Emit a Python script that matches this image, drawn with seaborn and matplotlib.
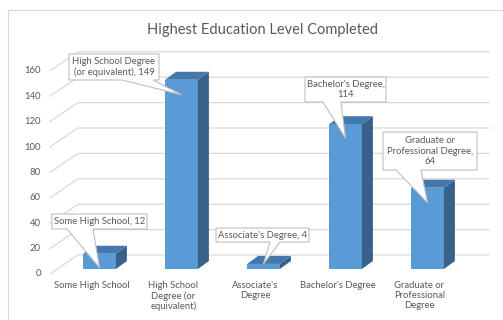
import matplotlib
matplotlib.use("Agg")
import matplotlib.pyplot as plt
import pandas as pd
import seaborn as sns
from matplotlib.patches import Polygon, Rectangle
from matplotlib.lines import Line2D

# ---- data -------------------------------------------------------------
categories = [
    "Some High School",
    "High School Degree (or equivalent)",
    "Associate's Degree",
    "Bachelor's Degree",
    "Graduate or Professional Degree",
]
counts = [12, 149, 4, 114, 64]
axis_labels = [
    "Some High School",
    "High School\nDegree (or\nequivalent)",
    "Associate's\nDegree",
    "Bachelor's Degree",
    "Graduate or\nProfessional\nDegree",
]
callout_templates = [
    "Some High School, {}",
    "High School Degree\n(or equivalent), {}",
    "Associate's Degree, {}",
    "Bachelor's Degree,\n{}",
    "Graduate or\nProfessional Degree,\n{}",
]
y_ticks = [0, 20, 40, 60, 80, 100, 120, 140, 160]
title = "Highest Education Level Completed"

# ---- styling ----------------------------------------------------------
W, H, DPI = 503, 320, 100
FRONT = "#5B9BD5"
TOP = "#4477AC"
SIDE = "#386189"
GRID = "#D9D9D9"
TEXT = "#595959"
EDGE = "#BFBFBF"

CAT_PX = 82.0        # pixels between categories
X0_PX = 99.5         # pixel column of the first category
BASE_PX = 269.0      # pixel row of the bar baseline
UNIT_PX = 1.27       # pixels per count unit

sns.set_theme(style="white")
plt.rcParams["font.family"] = ["Lato", "DejaVu Sans"]

fig = plt.figure(figsize=(W / DPI, H / DPI), dpi=DPI)
ax = fig.add_axes([0, 0, 1, 1])


def to_data(px, py):
    """Pixel position (from top-left) to data coordinates."""
    return ((px - X0_PX) / CAT_PX, (BASE_PX - py) / UNIT_PX)


df = pd.DataFrame({"level": categories, "count": counts})
sns.barplot(data=df, x="level", y="count", order=categories, ax=ax,
            color=FRONT, saturation=1, width=0.4, linewidth=0, zorder=3)

ax.set_xlim(to_data(0, 0)[0], to_data(W, 0)[0])
ax.set_ylim(to_data(0, H)[1], to_data(0, 0)[1])
ax.axis("off")

# depth of the bars and of the walls
bar_dx, bar_dv = 11 / CAT_PX, 8 / UNIT_PX
front_dv = -5 / UNIT_PX
back_dv = 14 / UNIT_PX
x_front = to_data(50, 0)[0]
x_back = to_data(78, 0)[0]
x_end = to_data(489, 0)[0]

# gridlines on the side wall and back wall, with value labels
for v in y_ticks:
    ax.add_line(Line2D([x_front, x_back, x_end],
                       [v + front_dv, v + back_dv, v + back_dv],
                       color=GRID, lw=0.9, zorder=1))
    ax.text(to_data(41, 0)[0], v + front_dv, str(v), ha="right", va="center",
            fontsize=6.8, color=TEXT)

# side and top faces of each column
half = 0.2
for i, v in enumerate(counts):
    xl, xr = i - half, i + half
    ax.add_patch(Polygon([(xr, 0), (xr, v), (xr + bar_dx, v + bar_dv),
                          (xr + bar_dx, bar_dv)],
                         closed=True, facecolor=SIDE, lw=0, zorder=3))
    ax.add_patch(Polygon([(xl, v), (xr, v), (xr + bar_dx, v + bar_dv),
                          (xl + bar_dx, v + bar_dv)],
                         closed=True, facecolor=TOP, lw=0, zorder=3))

# category labels along the floor
for i, lab in enumerate(axis_labels):
    ax.text(i - 8 / CAT_PX, to_data(0, 281)[1], lab, ha="center", va="top",
            fontsize=6.8, color=TEXT, linespacing=1.15)

# callouts: box (px), wedge base on bottom edge (px), tip drop below bar top (px)
boxes = [(52, 214, 147, 229), (69, 54, 159, 80), (216, 228, 309, 242),
         (305, 77, 386, 102), (383, 132, 477, 170)]
wedges = [(67, 93), (122, 153), (270, 280), (323, 341), (396, 421)]
tip_drop = [14, 15, 0, 14, 15]

for i, v in enumerate(counts):
    x0, y0, x1, y1 = boxes[i]
    b0, b1 = wedges[i]
    tx = X0_PX + CAT_PX * i
    ty = BASE_PX - v * UNIT_PX + tip_drop[i]
    pts = [(x0, y0), (x1, y0), (x1, y1), (b1, y1), (tx, ty), (b0, y1), (x0, y1)]
    ax.add_patch(Polygon([to_data(px, py) for px, py in pts], closed=True,
                         facecolor="white", edgecolor=EDGE, lw=0.8, zorder=5))
    cx, cy = to_data((x0 + x1) / 2, (y0 + y1) / 2)
    ax.text(cx, cy, callout_templates[i].format(v), ha="center", va="center",
            fontsize=6.8, color=TEXT, linespacing=1.15, zorder=6)

# chart title
tx, ty = to_data(263, 30)
ax.text(tx, ty, title, ha="center", va="center", fontsize=10.5, color=TEXT)

# chart area border (left and top edges visible)
fig.add_artist(Rectangle((8 / W, -0.1), 1.2, 1.1 - 10 / H + 0.0,
                         transform=fig.transFigure, fill=False,
                         edgecolor=GRID, lw=0.9))

fig.savefig("out.png", dpi=DPI)
